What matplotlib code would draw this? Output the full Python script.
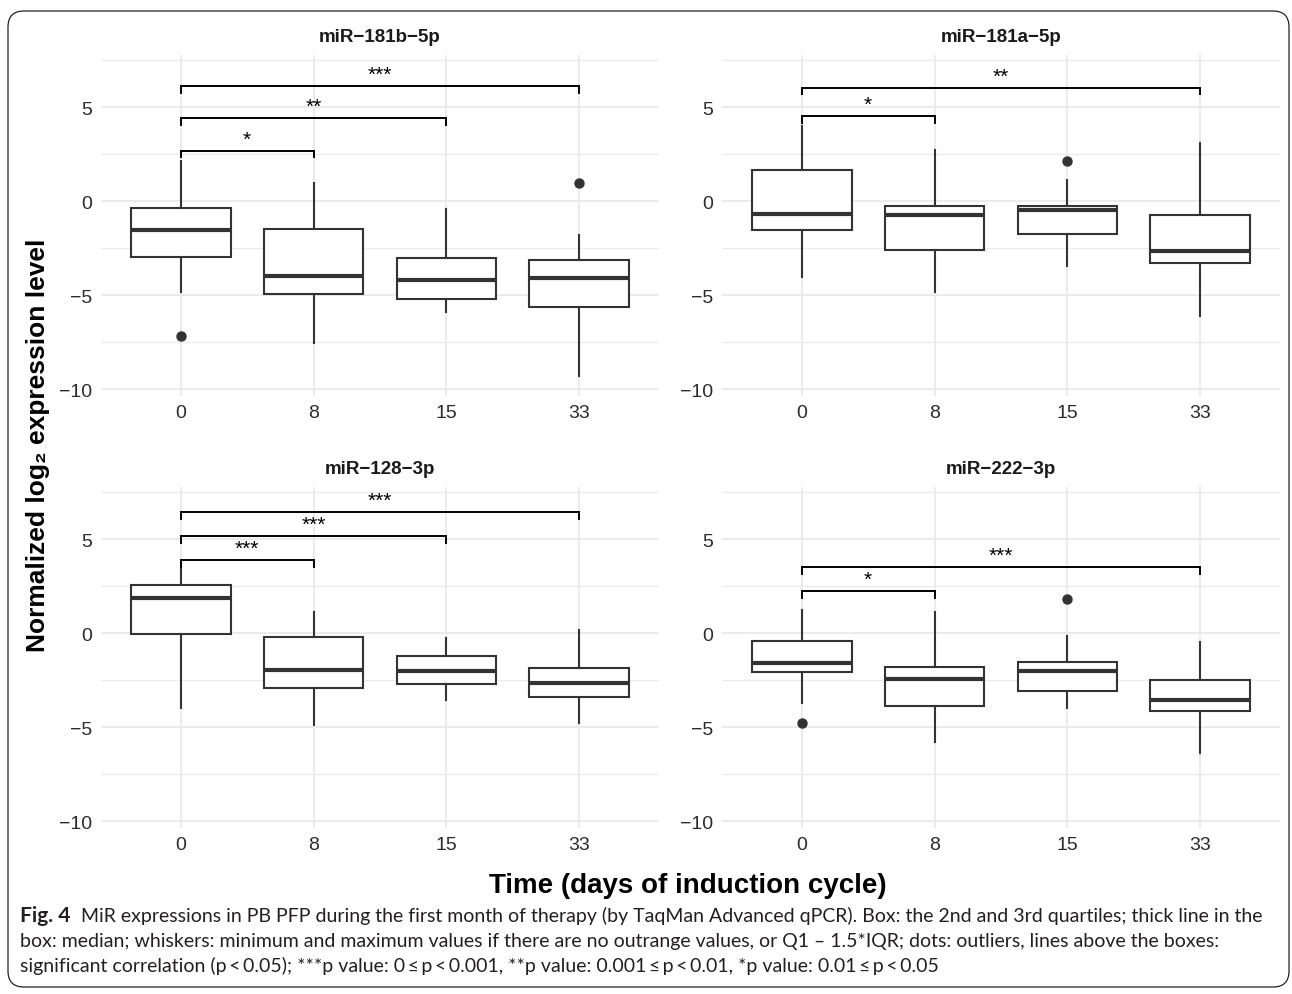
import matplotlib.pyplot as plt
from matplotlib.patches import FancyBboxPatch
from matplotlib.ticker import MultipleLocator

plt.rcParams['font.family'] = ['Liberation Sans', 'DejaVu Sans']

W, H = 1292, 995

# data
panels = ['miR−181b−5p', 'miR−181a−5p', 'miR−128−3p', 'miR−222−3p']
days = ['0', '8', '15', '33']

whisker_hi = [[2.11, 0.94, -0.43, -1.81],
              [4.01, 2.71, 1.12, 3.09],
              [3.49, 1.13, -0.27, 0.14],
              [1.22, 1.13, -0.18, -0.50]]
box_hi = [[-0.37, -1.49, -3.05, -3.14],
          [1.65, -0.28, -0.25, -0.73],
          [2.57, -0.23, -1.21, -1.88],
          [-0.44, -1.82, -1.56, -2.50]]
median = [[-1.53, -3.97, -4.20, -4.08],
          [-0.69, -0.73, -0.48, -2.64],
          [1.84, -1.97, -2.00, -2.68],
          [-1.61, -2.45, -2.04, -3.56]]
box_lo = [[-3.00, -4.96, -5.21, -5.65],
          [-1.53, -2.59, -1.76, -3.32],
          [-0.07, -2.94, -2.71, -3.42],
          [-2.09, -3.87, -3.07, -4.13]]
whisker_lo = [[-4.82, -7.57, -5.89, -9.29],
              [-4.03, -4.86, -3.44, -6.10],
              [-3.97, -4.89, -3.56, -4.80],
              [-3.74, -5.81, -4.01, -6.38]]
# (group index, value)
outliers = [[(0, -7.2), (3, 0.94)],
            [(2, 2.14)],
            [],
            [(0, -4.8), (2, 1.81)]]

# significance brackets, all start at day 0
sig_end = [[1, 2, 3], [1, 3], [1, 2, 3], [1, 3]]
sig_y = [[2.68, 4.41, 6.10], [4.50, 6.03], [3.90, 5.14, 6.42], [2.25, 3.49]]
sig_label = [['*', '**', '***'], ['*', '**'], ['***', '***', '***'], ['*', '***']]

dark = '#333333'

fig = plt.figure(figsize=(W / 100, H / 100), dpi=100)

# background layer in pixel coordinates (frame + caption)
bg = fig.add_axes([0, 0, 1, 1])
bg.set_xlim(0, W)
bg.set_ylim(H, 0)
bg.axis('off')
bg.add_patch(FancyBboxPatch((8, 12), 1281, 976,
                            boxstyle='round,pad=0,rounding_size=16',
                            fc='none', ec='#222222', lw=0.9))

lefts = [101, 722]
tops = [56, 488]
pw, ph = 558, 341

for i, name in enumerate(panels):
    r, c = divmod(i, 2)
    ax = fig.add_axes([lefts[c] / W, 1 - (tops[r] + ph) / H, pw / W, ph / H])
    ax.set_facecolor('none')
    stats = []
    for j in range(len(days)):
        stats.append(dict(med=median[i][j], q1=box_lo[i][j], q3=box_hi[i][j],
                          whislo=whisker_lo[i][j], whishi=whisker_hi[i][j],
                          fliers=[v for g, v in outliers[i] if g == j]))
    ax.bxp(stats, positions=range(len(days)), widths=0.75, showcaps=False,
           patch_artist=True,
           boxprops=dict(facecolor='white', edgecolor=dark, lw=1.5),
           medianprops=dict(color=dark, lw=3.0, solid_capstyle='butt'),
           whiskerprops=dict(color=dark, lw=1.5),
           flierprops=dict(marker='o', mfc=dark, mec=dark, ms=6.5))

    tip = 0.36
    for e, y, lab in zip(sig_end[i], sig_y[i], sig_label[i]):
        ax.plot([0, 0, e, e], [y - tip, y, y, y - tip], color='black', lw=1.4,
                solid_joinstyle='miter')
        ax.text(e / 2, y + 0.33, lab, ha='center', va='baseline', fontsize=15,
                color='black')

    ax.set_xlim(-0.6, 3.6)
    ax.set_ylim(-10.37, 7.77)
    ax.set_xticks(range(len(days)))
    ax.set_xticklabels(days)
    ax.yaxis.set_major_locator(MultipleLocator(5))
    ax.yaxis.set_minor_locator(MultipleLocator(2.5))
    ax.set_axisbelow(True)
    ax.grid(which='major', color='#EBEBEB', lw=1.4)
    ax.grid(which='minor', axis='y', color='#EBEBEB', lw=1.0)
    for s in ax.spines.values():
        s.set_visible(False)
    ax.tick_params(which='both', length=0, labelsize=14, labelcolor='#2b2b2b')
    ax.tick_params(axis='x', pad=6)
    ax.tick_params(axis='y', pad=6.5)
    ax.set_title(name, fontsize=13.5, fontweight='bold', pad=10, color='#1a1a1a')

fig.text(38 / W, 1 - 445 / H, 'Normalized log₂ expression level', rotation=90,
         ha='center', va='center', fontsize=19, fontweight='bold')
fig.text(688 / W, 1 - 886 / H, 'Time (days of induction cycle)',
         ha='center', va='center', fontsize=20, fontweight='bold')

# caption
cap_font = ['Lato', 'DejaVu Sans']
ts = '\u2009'
cap_lines = [
    'MiR expressions in PB PFP during the first month of therapy (by TaqMan Advanced qPCR). '
    'Box: the 2nd and 3rd quartiles; thick line in the',
    'box: median; whiskers: minimum and maximum values if there are no outrange values, '
    'or Q1 – 1.5*IQR; dots: outliers, lines above the boxes:',
    f'significant correlation (p{ts}<{ts}0.05); ***p value: 0{ts}≤{ts}p{ts}<{ts}0.001, '
    f'**p value: 0.001{ts}≤{ts}p{ts}<{ts}0.01, *p value: 0.01{ts}≤{ts}p{ts}<{ts}0.05',
]
cap_col = '#231F20'
renderer = fig.canvas.get_renderer()
t1 = bg.text(98, 922, cap_lines[0], fontsize=12, family=cap_font, va='baseline',
             color=cap_col)
fs = 12 * 1159 / t1.get_window_extent(renderer).width
tf = bg.text(20, 922, 'Fig. 4', fontsize=fs * 1.08, family=cap_font,
             fontweight='bold', va='baseline', color=cap_col)
fig_end = tf.get_window_extent(renderer).x1
x_rest = fig_end + 11
t1.set_x(x_rest)
t1.set_fontsize(12)
fs = 12 * (1257 - x_rest) / t1.get_window_extent(renderer).width
t1.set_fontsize(fs)
tf.set_fontsize(fs * 1.08)
bg.text(20, 947, cap_lines[1], fontsize=fs, family=cap_font, va='baseline',
        color=cap_col)
bg.text(20, 972, cap_lines[2], fontsize=fs, family=cap_font, va='baseline',
        color=cap_col)

fig.savefig('out.png', dpi=100)
